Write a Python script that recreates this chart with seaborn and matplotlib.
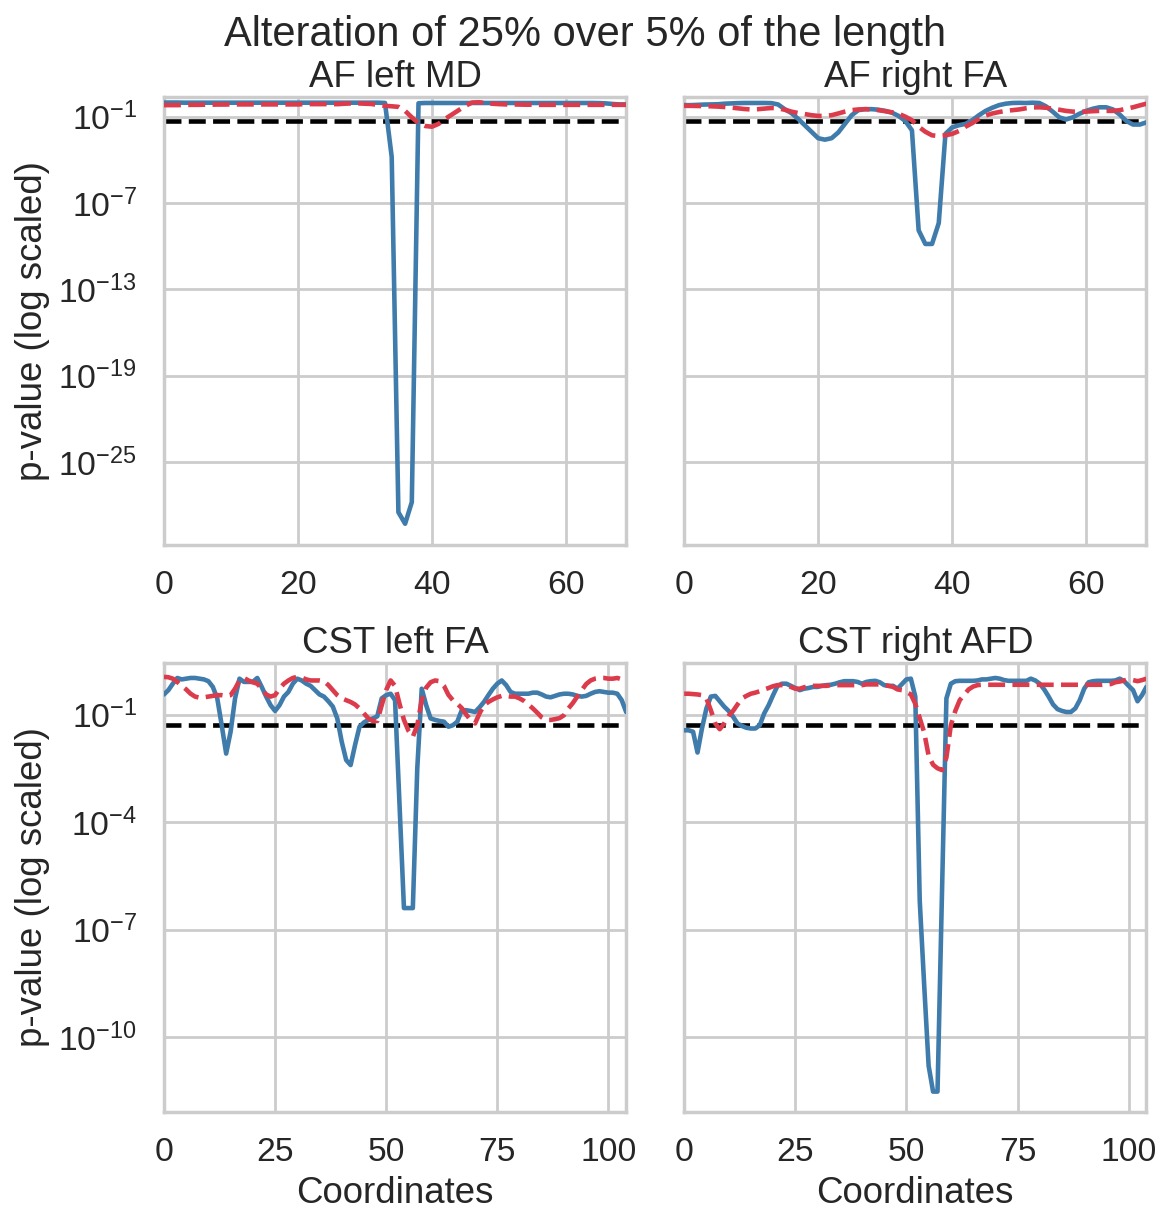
import numpy as np
import matplotlib
matplotlib.use("Agg")
import matplotlib.pyplot as plt
from matplotlib.ticker import FixedLocator, NullLocator
import seaborn as sns

suptitle = "Alteration of 25% over 5% of the length"
panel_titles = ["AF left MD", "AF right FA", "CST left FA", "CST right AFD"]
alpha_level = 0.05

# log10(p-value), one value per coordinate
af_left_md_solid = [
    -0.02, -0.02, -0.02, -0.03, -0.03, -0.03, -0.03, -0.03, -0.03, -0.03,
    -0.03, -0.03, -0.03, -0.03, -0.03, -0.03, -0.03, -0.03, -0.03, -0.03,
    -0.03, -0.03, -0.03, -0.03, -0.03, -0.03, -0.03, -0.03, -0.03, -0.03,
    -0.03, -0.03, -0.03, -0.05, -3.8, -28.5, -29.3, -27.8, -0.07, -0.05,
    -0.05, -0.05, -0.05, -0.05, -0.05, -0.05, -0.05, -0.05, -0.05, -0.05,
    -0.05, -0.05, -0.05, -0.05, -0.05, -0.05, -0.05, -0.05, -0.05, -0.05,
    -0.05, -0.05, -0.05, -0.05, -0.05, -0.06, -0.08, -0.12, -0.15, -0.15]
af_left_md_dashed = [
    -0.2, -0.2, -0.2, -0.19, -0.18, -0.18, -0.17, -0.17, -0.16, -0.16,
    -0.15, -0.15, -0.15, -0.15, -0.15, -0.15, -0.15, -0.15, -0.15, -0.15,
    -0.15, -0.13, -0.13, -0.13, -0.13, -0.13, -0.13, -0.1, -0.08, -0.08,
    -0.1, -0.12, -0.2, -0.25, -0.28, -0.32, -0.6, -1.05, -1.45, -1.65,
    -1.7, -1.5, -1.15, -0.85, -0.55, -0.25, -0.02, 0.0, -0.05, -0.1,
    -0.13, -0.15, -0.15, -0.16, -0.17, -0.17, -0.18, -0.18, -0.18, -0.18,
    -0.18, -0.18, -0.18, -0.18, -0.18, -0.18, -0.18, -0.18, -0.18, -0.18]
af_right_fa_solid = [
    -0.2, -0.2, -0.18, -0.16, -0.15, -0.14, -0.1, -0.08, -0.06, -0.05,
    -0.05, -0.05, -0.05, -0.06, -0.15, -0.48, -0.75, -1.15, -1.6, -2.05,
    -2.5, -2.6, -2.5, -2.1, -1.5, -0.9, -0.55, -0.48, -0.48, -0.52,
    -0.6, -0.72, -0.95, -1.3, -1.95, -8.9, -9.85, -9.85, -8.4, -2.2,
    -1.75, -1.6, -1.5, -1.25, -0.9, -0.6, -0.38, -0.2, -0.1, -0.05,
    -0.04, -0.05, -0.03, -0.05, -0.28, -0.65, -1.05, -1.2, -1.05, -0.8,
    -0.6, -0.45, -0.35, -0.35, -0.5, -0.85, -1.3, -1.55, -1.55, -1.4]
af_right_fa_dashed = [
    -0.25, -0.25, -0.26, -0.27, -0.28, -0.3, -0.33, -0.37, -0.42, -0.47,
    -0.5, -0.48, -0.44, -0.4, -0.42, -0.52, -0.65, -0.75, -0.82, -0.9,
    -0.95, -0.95, -0.9, -0.78, -0.65, -0.55, -0.5, -0.48, -0.5, -0.55,
    -0.62, -0.7, -0.8, -1.0, -1.25, -1.7, -2.05, -2.3, -2.35, -2.3,
    -2.2, -2.0, -1.7, -1.45, -1.15, -0.92, -0.78, -0.68, -0.6, -0.55,
    -0.5, -0.42, -0.36, -0.35, -0.38, -0.45, -0.52, -0.6, -0.65, -0.66,
    -0.65, -0.62, -0.6, -0.6, -0.6, -0.55, -0.45, -0.35, -0.22, -0.1]
cst_left_fa_solid = [
    -0.44, -0.32, -0.14, 0.02, -0.02, 0.0, 0.02, 0.02, 0.0, -0.02,
    -0.07, -0.23, -0.55, -1.3, -2.09, -1.48, -0.55, 0.0, -0.09, -0.09,
    -0.09, 0.02, -0.23, -0.5, -0.74, -0.9, -0.74, -0.5, -0.37, -0.14,
    0.0, -0.05, -0.14, -0.2, -0.32, -0.44, -0.5, -0.63, -0.78, -1.11,
    -1.76, -2.27, -2.41, -1.85, -1.34, -1.22, -1.15, -1.11, -1.05, -0.55,
    -0.46, -0.42, -0.6, -3.5, -6.4, -6.4, -6.4, -2.5, -0.28, -0.74,
    -1.11, -1.15, -1.18, -1.2, -1.34, -1.3, -1.2, -0.88, -0.88, -0.9,
    -0.93, -0.8, -0.65, -0.46, -0.28, -0.14, -0.05, -0.18, -0.37, -0.42,
    -0.42, -0.42, -0.42, -0.39, -0.39, -0.44, -0.5, -0.52, -0.48, -0.44,
    -0.42, -0.42, -0.44, -0.48, -0.5, -0.48, -0.42, -0.37, -0.35, -0.37,
    -0.39, -0.39, -0.42, -0.6, -0.93]
cst_left_fa_dashed = [
    0.05, 0.04, 0.0, -0.09, -0.2, -0.3, -0.42, -0.5, -0.53, -0.52,
    -0.5, -0.48, -0.46, -0.46, -0.48, -0.46, -0.28, -0.05, 0.02, -0.05,
    -0.1, -0.14, -0.28, -0.44, -0.5, -0.46, -0.28, -0.14, -0.05, 0.02,
    0.05, 0.03, -0.02, -0.05, -0.05, -0.05, -0.07, -0.18, -0.32, -0.46,
    -0.55, -0.6, -0.65, -0.72, -0.83, -0.97, -1.11, -1.18, -1.18, -0.74,
    -0.32, -0.05, -0.2, -0.7, -1.15, -1.45, -1.62, -1.3, -0.6, -0.25,
    -0.1, -0.05, -0.07, -0.2, -0.45, -0.6, -0.7, -0.82, -1.0, -1.15,
    -1.25, -0.97, -0.74, -0.65, -0.58, -0.52, -0.48, -0.48, -0.5, -0.5,
    -0.55, -0.62, -0.72, -0.83, -0.95, -1.08, -1.15, -1.15, -1.13, -1.1,
    -1.02, -0.83, -0.68, -0.5, -0.32, -0.15, -0.05, 0.0, 0.02, 0.02,
    0.0, 0.0, 0.02, -0.02, -0.07]
cst_right_afd_solid = [
    -1.44, -1.44, -1.48, -2.06, -1.39, -0.83, -0.5, -0.48, -0.63, -0.78,
    -0.9, -1.06, -1.25, -1.32, -1.37, -1.39, -1.39, -1.3, -0.97, -0.74,
    -0.46, -0.2, -0.14, -0.14, -0.2, -0.26, -0.32, -0.28, -0.26, -0.23,
    -0.23, -0.2, -0.18, -0.17, -0.14, -0.1, -0.07, -0.07, -0.07, -0.09,
    -0.14, -0.09, -0.07, -0.06, -0.1, -0.18, -0.2, -0.2, -0.28, -0.15,
    -0.02, 0.0, -0.5, -6.2, -8.55, -10.8, -11.52, -11.52, -6.0, -0.55,
    -0.14, -0.07, -0.06, -0.06, -0.06, -0.06, -0.05, -0.02, -0.02, 0.0,
    0.02, 0.0, -0.04, -0.06, -0.06, -0.06, -0.06, -0.06, 0.0, -0.05,
    -0.14, -0.3, -0.5, -0.72, -0.85, -0.9, -0.93, -0.93, -0.83, -0.6,
    -0.28, -0.1, -0.07, -0.06, -0.06, -0.06, -0.06, -0.05, 0.0, -0.07,
    -0.2, -0.32, -0.63, -0.46, -0.23]
cst_right_afd_dashed = [
    -0.42, -0.42, -0.43, -0.44, -0.46, -0.55, -0.88, -1.25, -1.41, -1.25,
    -1.04, -0.9, -0.72, -0.55, -0.48, -0.42, -0.39, -0.35, -0.3, -0.26,
    -0.21, -0.18, -0.18, -0.18, -0.23, -0.28, -0.28, -0.24, -0.21, -0.2,
    -0.2, -0.2, -0.2, -0.18, -0.18, -0.18, -0.18, -0.18, -0.18, -0.18,
    -0.18, -0.16, -0.16, -0.16, -0.16, -0.18, -0.2, -0.23, -0.3, -0.32,
    -0.37, -0.44, -0.7, -1.1, -1.5, -2.15, -2.4, -2.5, -2.55, -2.2,
    -1.3, -0.9, -0.6, -0.45, -0.3, -0.22, -0.18, -0.17, -0.17, -0.17,
    -0.17, -0.17, -0.17, -0.17, -0.17, -0.17, -0.17, -0.17, -0.17, -0.17,
    -0.17, -0.17, -0.17, -0.17, -0.17, -0.17, -0.17, -0.17, -0.17, -0.17,
    -0.17, -0.17, -0.17, -0.17, -0.17, -0.16, -0.15, -0.1, -0.08, -0.05,
    -0.02, -0.04, -0.07, -0.04, 0.0]

top_yticks = [1e-1, 1e-7, 1e-13, 1e-19, 1e-25]
bottom_yticks = [1e-1, 1e-4, 1e-7, 1e-10]

sns.set_theme(context="poster", style="whitegrid", font_scale=1.1)
plt.rcParams["font.family"] = ["Liberation Sans", "DejaVu Sans"]

solid_color = "#3f7cac"
dashed_color = "#dc3b4b"
lw = 3.3

panels = [
    (af_left_md_solid, af_left_md_dashed),
    (af_right_fa_solid, af_right_fa_dashed),
    (cst_left_fa_solid, cst_left_fa_dashed),
    (cst_right_afd_solid, cst_right_afd_dashed),
]

fig, axes = plt.subplots(2, 2, figsize=(11.71, 12.27), dpi=100, sharey="row")
fig.subplots_adjust(left=0.14, right=0.979, top=0.921, bottom=0.094,
                    wspace=0.1255, hspace=0.263)

for ax, title, (solid, dashed) in zip(axes.flat, panel_titles, panels):
    coords = np.arange(len(solid))
    ax.set_yscale("log")
    ax.axhline(alpha_level, color="black", linestyle="--", lw=lw, zorder=2)
    sns.lineplot(x=coords, y=10.0 ** np.array(solid), ax=ax,
                 color=solid_color, lw=lw, zorder=3)
    sns.lineplot(x=coords, y=10.0 ** np.array(dashed), ax=ax,
                 color=dashed_color, lw=lw, linestyle="--", zorder=4)
    ax.set_xlim(0, len(solid) - 1)
    ax.set_title(title, pad=7.5)
    ax.set_xlabel("")
    ax.set_ylabel("")
    ax.tick_params(axis="x", pad=6)
    ax.tick_params(axis="y", pad=7.5)

for ax in axes[0]:
    ax.set_ylim(10 ** -30.8, 10 ** 0.37)
    ax.yaxis.set_major_locator(FixedLocator(top_yticks))
    ax.yaxis.set_minor_locator(NullLocator())
    ax.set_xticks([0, 20, 40, 60])
for ax in axes[1]:
    ax.set_ylim(10 ** -12.08, 10 ** 0.43)
    ax.yaxis.set_major_locator(FixedLocator(bottom_yticks))
    ax.yaxis.set_minor_locator(NullLocator())
    ax.set_xticks([0, 25, 50, 75, 100])
    ax.set_xlabel("Coordinates", labelpad=6)

axes[0, 0].set_ylabel("p-value (log scaled)", labelpad=6)
axes[1, 0].set_ylabel("p-value (log scaled)", labelpad=6)

fig.suptitle(suptitle, fontsize=30, y=0.988)
fig.savefig("out.png", dpi=100)
